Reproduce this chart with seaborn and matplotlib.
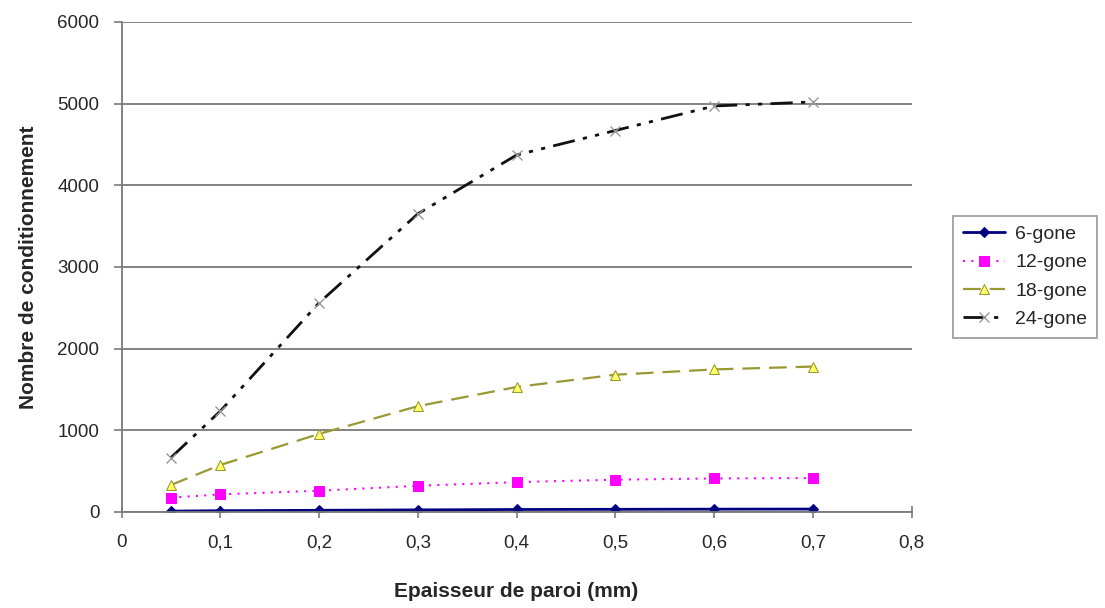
import numpy as np
import pandas as pd
import seaborn as sns
import matplotlib
matplotlib.use("Agg")
import matplotlib.pyplot as plt

epaisseur = [0.05, 0.1, 0.2, 0.3, 0.4, 0.5, 0.6, 0.7]
gone_6 = [10, 15, 20, 25, 30, 32, 34, 35]
gone_12 = [175, 215, 260, 320, 365, 395, 410, 415]
gone_18 = [330, 575, 955, 1295, 1530, 1680, 1745, 1780]
gone_24 = [665, 1235, 2560, 3650, 4370, 4670, 4970, 5020]
series_names = ["6-gone", "12-gone", "18-gone", "24-gone"]

sns.set_theme(style="white")
plt.rcParams['font.family'] = ['Liberation Sans', 'DejaVu Sans']

fig = plt.figure(figsize=(11.05, 6.08), dpi=100)
ax = fig.add_axes([0.110, 0.158, 0.715, 0.806])

styles = {
    "6-gone": dict(color="#000080", marker="D", markersize=5, linestyle="-", lw=2,
                   markerfacecolor="#000080", markeredgecolor="#000080"),
    "12-gone": dict(color="#FF00FF", marker="s", markersize=7, linestyle=(0, (1, 3)), lw=1.5,
                    markerfacecolor="#FF00FF", markeredgecolor="#FF00FF"),
    "18-gone": dict(color="#999933", marker="^", markersize=7, linestyle=(0, (8, 4)), lw=1.6,
                    markerfacecolor="#FFFF66", markeredgecolor="#999933"),
    "24-gone": dict(color="#111111", marker="x", markersize=7, linestyle=(0, (8, 3, 1.5, 3, 1.5, 3)), lw=2,
                    markeredgecolor="#999999", markeredgewidth=1),
}

all_values = [gone_6, gone_12, gone_18, gone_24]
for name, vals in zip(series_names, all_values):
    df = pd.DataFrame({"x": epaisseur, "y": vals})
    sns.lineplot(data=df, x="x", y="y", ax=ax, label=name, **styles[name])

ax.set_xlim(0, 0.8)
ax.set_ylim(0, 6000)
ax.set_xticks(np.arange(0, 0.81, 0.1))
ax.set_xticklabels(["0", "0,1", "0,2", "0,3", "0,4", "0,5", "0,6", "0,7", "0,8"], fontsize=13.5)
ax.set_yticks(np.arange(0, 6001, 1000))
ax.set_yticklabels([str(v) for v in range(0, 6001, 1000)], fontsize=13.5)
ax.yaxis.grid(True, color="#7a7a7a", lw=1.3)
ax.set_axisbelow(True)
for s in ["top", "right"]:
    ax.spines[s].set_visible(False)
for s in ["left", "bottom"]:
    ax.spines[s].set_color("#7a7a7a")
    ax.spines[s].set_linewidth(1.3)
ax.tick_params(axis="x", direction="inout", length=8, color="#7a7a7a", width=1.2, bottom=True, pad=12)
ax.tick_params(axis="y", direction="out", length=6, color="#7a7a7a", width=1.2, left=True, pad=10)

ax.set_xlabel("Epaisseur de paroi (mm)", fontsize=15, fontweight="bold", labelpad=22)
ax.set_ylabel("Nombre de conditionnement", fontsize=15, fontweight="bold", labelpad=14)

leg = ax.legend(loc="center left", bbox_to_anchor=(1.04, 0.48), fontsize=14, frameon=True,
                fancybox=False, edgecolor="#888888", handlelength=2.2, borderpad=0.5,
                labelspacing=0.55, handletextpad=0.5)
leg.get_frame().set_linewidth(1.3)

fig.savefig("out.png", dpi=100)
